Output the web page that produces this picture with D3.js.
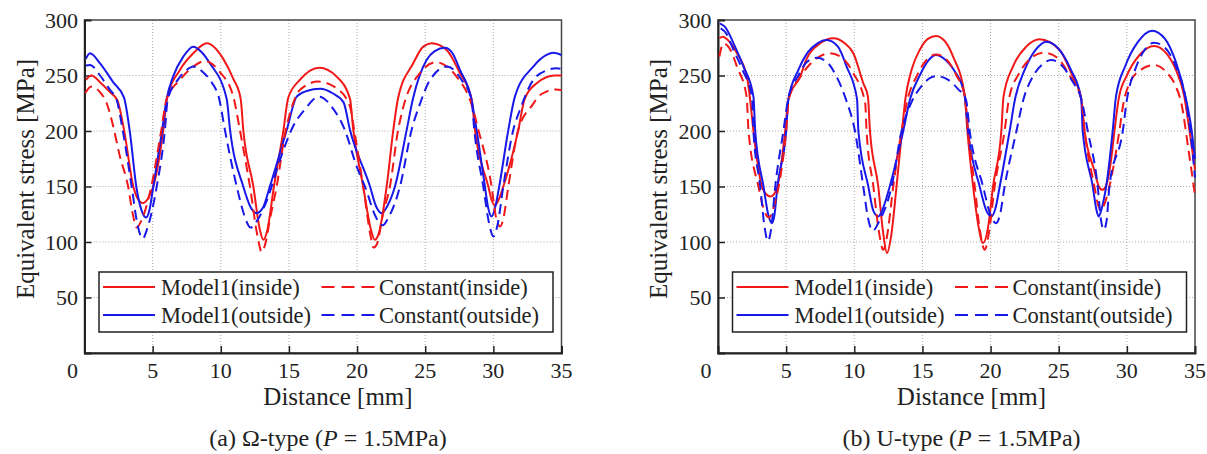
<!DOCTYPE html>
<html>
<head>
<meta charset="utf-8">
<script src="https://cdn.jsdelivr.net/npm/d3@7"></script>
<style>
  body { margin: 0; background: #fff; }
  svg text { font-family: "Liberation Serif", "Times New Roman", serif; fill: #222; }
</style>
</head>
<body>
<div id="chart"></div>
<script>
// tick values
const xTicks = [0, 5, 10, 15, 20, 25, 30, 35];
const yTicks = [50, 100, 150, 200, 250, 300];

// (a) Omega-type, [distance mm, stress MPa]
const omegaModelIn = [[0.1,246],[0.5,250],[1.14,244],[1.87,235],[2.4,228],[2.9,201],[3.58,150],[3.95,138],[4.27,135],[4.65,139],[5.05,150],[5.78,201],[6.05,229],[7.0,255],[7.98,270],[8.97,279],[10.18,265],[10.92,247],[11.46,229],[11.65,201],[12.39,150],[12.85,112],[13.12,102],[13.4,110],[13.9,150],[14.6,201],[14.95,230],[15.8,246],[17.23,257],[18.5,249],[19.48,229],[19.72,201],[20.45,150],[21.0,112],[21.3,102],[21.6,108],[22.17,150],[22.66,201],[23.0,229],[24.12,261],[24.86,276],[25.47,279],[26.57,273],[27.55,252],[28.4,229],[28.65,201],[29.63,150],[29.9,137],[30.1,133],[30.35,137],[30.73,150],[31.83,201],[32.3,229],[33.18,243],[34.5,250],[35,250]];
const omegaModelOut = [[0.1,265],[0.4,270],[1.14,261],[2.1,244],[2.9,230],[3.34,198],[3.8,150],[4.2,128],[4.51,122],[4.75,128],[5.05,150],[5.7,201],[6.03,229],[6.5,249],[7.25,267],[7.98,276],[8.6,271],[9.2,261],[10.43,229],[10.68,201],[11.65,150],[12.2,131],[12.63,126],[13.1,131],[13.6,150],[14.84,201],[15.57,231],[16.3,236],[17.3,238],[18.2,234],[19.0,226],[19.48,201],[20.95,150],[21.4,132],[21.8,126],[22.2,132],[22.78,150],[23.64,201],[24.1,229],[25.1,264],[25.7,272],[26.45,275],[27.0,270],[27.55,255],[28.4,228],[28.77,201],[29.38,150],[29.6,132],[29.87,123],[30.15,132],[30.43,150],[31.1,201],[31.58,231],[32.93,258],[33.9,268.5],[34.4,270.5],[35,268.5]];
const omegaConstIn = [[0.05,234],[0.5,240],[1.14,235],[1.63,225],[2.11,204],[2.6,177],[3.2,150],[3.5,128],[3.83,113],[4.2,120],[4.9,150],[5.6,198],[6.03,229],[7.0,246],[7.98,258],[8.84,263],[9.94,253],[10.92,231],[11.4,201],[12.14,150],[12.7,105],[13.0,91],[13.3,100],[13.6,120],[14.1,150],[14.75,200],[15.08,216],[15.8,237],[17.15,244.5],[18.5,238.5],[19.48,222],[19.8,200],[20.45,150],[21.0,105],[21.2,95],[21.45,98],[21.9,125],[22.41,150],[23.0,200],[23.4,222],[24.6,252],[25.8,262],[26.6,258],[27.3,249],[28.4,224],[28.9,201],[29.87,150],[30.2,122],[30.5,114],[30.75,122],[31.1,150],[31.83,201],[32.9,224],[33.3,231],[33.9,235.5],[34.6,237.5],[35,237]];
const omegaConstOut = [[0.1,259],[0.4,259.5],[1.14,250],[1.87,237],[2.36,228],[2.8,201],[3.46,150],[3.9,115],[4.27,103],[4.6,112],[5.3,150],[5.9,201],[6.1,228],[6.9,247],[7.5,255],[8.0,258],[8.7,253],[9.2,246],[9.9,228],[10.3,201],[11.17,150],[11.7,125],[12.2,113],[12.7,120],[13.4,138],[14.34,174],[15.3,204],[16.2,220],[17.2,231],[18.25,220],[19.1,201],[19.97,168],[20.58,150],[21.4,122],[21.88,115],[22.3,122],[23.15,150],[24.0,201],[24.6,224],[25.35,246],[26.6,258],[27.67,246],[28.4,228],[28.6,201],[29.26,150],[29.7,116],[30.0,105],[30.3,115],[30.73,150],[31.46,201],[31.95,219],[32.93,246],[34.0,255],[34.64,256.5],[35,256]];

// (b) U-type
const uModelIn = [[0.1,283.5],[0.35,285],[0.8,281],[1.39,270],[2.12,249],[2.35,229],[2.6,200],[3.22,150],[3.55,143],[3.83,141],[4.1,143],[4.36,150],[4.93,200],[5.17,229],[6.03,249],[6.5,265],[7.5,279],[8.46,283.5],[9.3,279],[9.93,270],[10.66,243],[11.0,231],[11.15,200],[11.76,150],[12.1,110],[12.4,90],[12.7,105],[13.1,150],[13.5,200],[13.75,229],[14.2,255],[14.8,273],[15.4,283],[16.0,285.6],[16.7,280],[17.25,267],[18.1,232],[18.3,200],[18.72,150],[19.1,115],[19.45,99],[19.8,112],[20.18,150],[20.79,200],[20.95,231],[21.64,258],[22.62,276],[23.6,282.6],[25.06,273],[26.03,249],[26.65,229],[26.9,200],[27.6,165],[27.95,150],[28.2,147],[28.45,150],[28.8,170],[29.09,200],[29.4,229],[30.0,250],[30.9,268],[32.0,276.6],[32.9,270],[33.6,255],[34.2,232],[34.6,200],[35,165]];
const uModelOut = [[0.12,297],[0.5,294],[1.14,279],[1.87,258],[2.6,231],[2.73,200],[3.34,150],[3.7,124],[3.95,117],[4.15,125],[4.36,150],[5.0,200],[5.17,229],[5.9,255],[6.6,271],[7.3,279],[7.98,282],[8.8,276],[9.44,258],[10.2,229],[10.3,200],[11.03,150],[11.4,128],[11.76,123],[12.1,130],[12.6,150],[13.59,200],[14.1,229],[14.8,250],[15.4,263],[16.0,268.5],[16.7,264],[17.25,256],[18.1,232],[18.35,200],[19.2,150],[19.7,128],[20.06,123],[20.35,130],[20.67,150],[21.4,200],[21.8,229],[22.5,255],[23.3,273],[24.1,280.5],[25.0,274],[25.9,255],[26.65,229],[26.76,200],[27.5,150],[27.75,130],[27.93,123],[28.15,130],[28.48,150],[28.96,200],[29.2,231],[29.9,259],[30.8,280],[31.85,290.4],[32.8,283],[33.6,262],[34.3,231],[34.7,205],[35,175]];
const uConstIn = [[0.1,267],[0.4,279],[1.0,271],[1.39,258],[2.1,231],[2.24,200],[2.97,150],[3.4,128],[3.75,122],[4.05,130],[4.45,150],[5.0,200],[5.2,229],[6.0,248],[6.9,262],[8.2,270],[9.2,265],[9.93,252],[10.8,225],[10.9,200],[11.4,150],[11.8,110],[12.12,93],[12.4,105],[12.86,150],[13.47,200],[13.9,228],[14.6,250],[15.3,264],[16.0,269],[16.8,264],[17.5,250],[18.1,232],[18.35,200],[18.84,150],[19.2,112],[19.57,93],[19.9,110],[20.3,150],[21.03,200],[21.35,229],[22.1,252],[23.0,266],[23.9,270.5],[24.9,266],[25.8,250],[26.65,229],[26.9,200],[27.62,150],[27.9,133],[28.1,129],[28.35,134],[28.72,150],[29.45,200],[29.75,225],[30.2,243],[31.0,255],[32.0,259.5],[32.9,253],[33.6,240],[34.0,225],[34.5,185],[35,142]];
const uConstOut = [[0.2,292.5],[0.6,288],[1.14,273],[1.8,255],[2.5,230],[2.6,200],[3.1,150],[3.4,115],[3.66,101],[3.9,112],[4.2,150],[4.8,200],[5.15,229],[5.9,250],[6.5,262],[7.25,266],[8.0,262],[8.7,249],[9.4,228],[10.05,200],[10.66,150],[11.0,122],[11.35,110],[11.8,118],[12.74,150],[13.47,200],[14.2,226],[14.9,240],[15.6,248],[16.0,249.5],[16.9,246],[17.6,238],[18.2,228],[18.47,200],[19.45,150],[20.0,124],[20.4,117],[20.7,125],[21.03,150],[21.9,200],[22.4,228],[23.1,249],[23.8,260],[24.45,264],[25.3,258],[26.0,245],[26.65,229],[27.13,200],[27.86,150],[28.1,120],[28.3,111],[28.5,118],[28.72,150],[29.7,200],[30.0,228],[30.6,255],[31.3,273],[32.0,279.6],[32.8,275],[33.6,258],[34.3,230],[34.7,195],[35,158]];

const seriesNames = ['Model1(inside)', 'Model1(outside)', 'Constant(inside)', 'Constant(outside)'];
const RED = '#f01818', BLUE = '#1818e8';
const styles = [
  { color: RED, dash: null },
  { color: BLUE, dash: null },
  { color: RED, dash: '10,6' },
  { color: BLUE, dash: '10,6' }
];

const panels = [
  { left: 84.5, caption: ['(a) Ω-type (', 'P', ' = 1.5MPa)'], data: [omegaModelIn, omegaModelOut, omegaConstIn, omegaConstOut] },
  { left: 718, caption: ['(b) U-type (', 'P', ' = 1.5MPa)'], data: [uModelIn, uModelOut, uConstIn, uConstOut] }
];

const W = 1207, H = 454;
const plotTop = 20, plotBottom = 353, plotW = 477;

const svg = d3.select('#chart').append('svg')
  .attr('width', W).attr('height', H);

panels.forEach(p => {
  const x = d3.scaleLinear().domain([0, 35]).range([p.left, p.left + plotW]);
  const y = d3.scaleLinear().domain([0, 300]).range([plotBottom, plotTop]);
  const g = svg.append('g');

  // grid
  g.append('g').selectAll('line')
    .data(xTicks.filter(d => d > 0 && d < 35)).enter().append('line')
    .attr('x1', d => x(d)).attr('x2', d => x(d))
    .attr('y1', plotTop).attr('y2', plotBottom)
    .attr('stroke', '#aaa').attr('stroke-width', 1).attr('stroke-dasharray', '1,2');
  g.append('g').selectAll('line')
    .data(yTicks.filter(d => d < 300)).enter().append('line')
    .attr('x1', p.left).attr('x2', p.left + plotW)
    .attr('y1', d => y(d)).attr('y2', d => y(d))
    .attr('stroke', '#aaa').attr('stroke-width', 1).attr('stroke-dasharray', '1,2');

  // frame
  g.append('rect')
    .attr('x', p.left).attr('y', plotTop).attr('width', plotW).attr('height', plotBottom - plotTop)
    .attr('fill', 'none').attr('stroke', '#444').attr('stroke-width', 1.5);

  // axes with inward ticks
  const xAxis = g.append('g').attr('transform', `translate(0,${plotBottom})`)
    .call(d3.axisBottom(x).tickValues(xTicks.filter(d => d > 0 && d < 35)).tickSize(-7).tickFormat(''));
  const yAxis = g.append('g').attr('transform', `translate(${p.left},0)`)
    .call(d3.axisLeft(y).tickValues(yTicks.filter(d => d < 300)).tickSize(-7).tickFormat(''));
  [xAxis, yAxis].forEach(a => {
    a.select('.domain').attr('stroke', '#222').attr('stroke-width', 2);
    a.selectAll('.tick line').attr('stroke', '#222').attr('stroke-width', 1.5);
  });

  // tick labels
  g.append('g').selectAll('text').data(xTicks).enter().append('text')
    .attr('x', d => x(d) - (d === 0 ? 12 : 0)).attr('y', plotBottom + 25)
    .attr('text-anchor', 'middle').attr('font-size', 22)
    .text(d => d);
  g.append('g').selectAll('text').data(yTicks).enter().append('text')
    .attr('x', p.left - 6.5).attr('y', d => y(d) + 7.5)
    .attr('text-anchor', 'end').attr('font-size', 22)
    .text(d => d);

  // axis titles
  g.append('text')
    .attr('x', p.left + plotW / 2 + 15).attr('y', plotBottom + 52)
    .attr('text-anchor', 'middle').attr('font-size', 25)
    .text('Distance [mm]');
  g.append('text')
    .attr('transform', `translate(${p.left - 51},179) rotate(-90)`)
    .attr('text-anchor', 'middle').attr('font-size', 25)
    .text('Equivalent stress [MPa]');

  // curves
  const line = d3.line().x(d => x(d[0])).y(d => y(d[1])).curve(d3.curveMonotoneX);
  p.data.forEach((s, i) => {
    g.append('path').datum(s)
      .attr('d', line)
      .attr('fill', 'none')
      .attr('stroke', styles[i].color)
      .attr('stroke-width', 2)
      .attr('stroke-dasharray', styles[i].dash);
  });

  // legend
  const lg = g.append('g').attr('transform', `translate(${p.left},0)`);
  lg.append('rect')
    .attr('x', 14.5).attr('y', 272).attr('width', 454).attr('height', 60)
    .attr('fill', '#fff').attr('stroke', '#222').attr('stroke-width', 1.5);
  const cols = [[18.5, 70.5, 76.5], [237, 290.5, 294.5]];
  seriesNames.forEach((name, i) => {
    const c = cols[Math.floor(i / 2)], ry = i % 2 === 0 ? 287 : 315;
    lg.append('line')
      .attr('x1', c[0]).attr('x2', c[1]).attr('y1', ry).attr('y2', ry)
      .attr('stroke', styles[i].color).attr('stroke-width', 2)
      .attr('stroke-dasharray', styles[i].dash ? '13,7' : null);
    lg.append('text')
      .attr('x', c[2]).attr('y', ry + 7.5).attr('font-size', 22.5)
      .text(name);
  });

  // caption
  const cap = g.append('text')
    .attr('x', p.left + plotW / 2 + 5).attr('y', 446)
    .attr('text-anchor', 'middle').attr('font-size', 24);
  cap.append('tspan').text(p.caption[0]);
  cap.append('tspan').attr('font-style', 'italic').text(p.caption[1]);
  cap.append('tspan').text(p.caption[2]);
});
</script>
</body>
</html>
